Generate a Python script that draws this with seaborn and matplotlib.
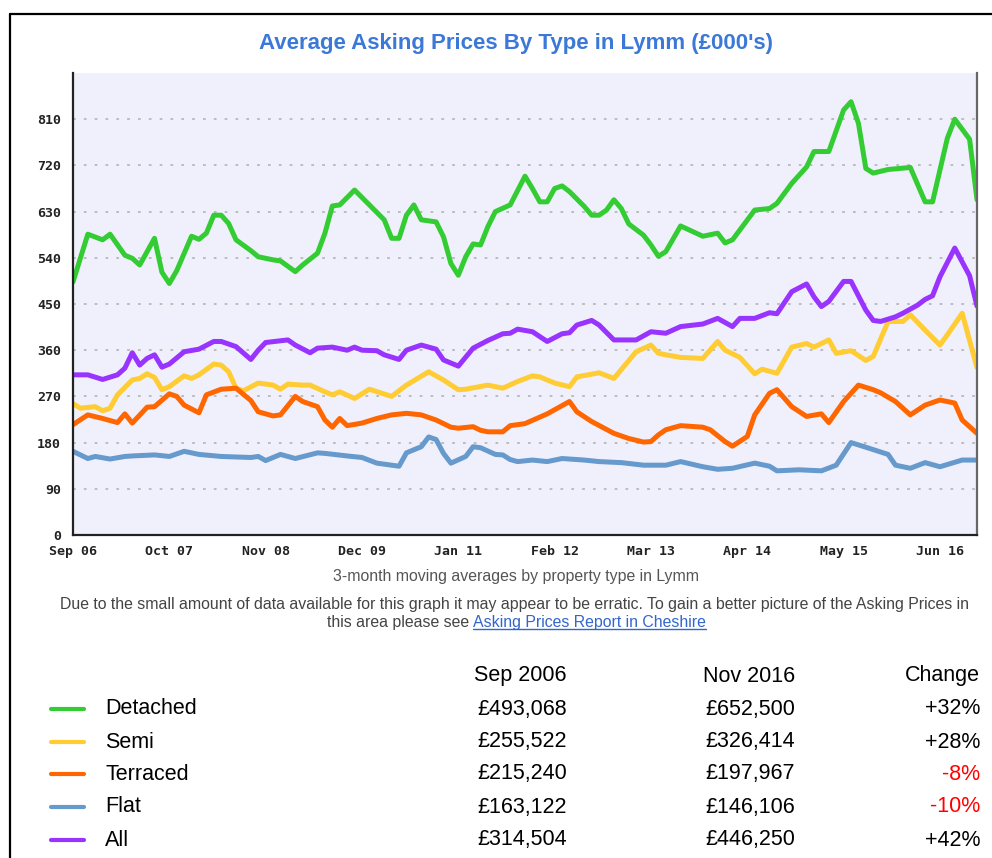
import pandas as pd
import matplotlib.pyplot as plt
import seaborn as sns
from matplotlib.lines import Line2D

# months counted from Sep 2006 (0) to Nov 2016 (122), values in £000's
detached_m = [0, 2, 4, 5, 7, 8, 9, 11, 12, 13, 14, 16, 17, 18, 19, 20, 21, 22, 24, 25, 27, 28, 30, 31,
              33, 34, 35, 36, 38, 40, 42, 43, 44, 45, 46, 47, 49, 50, 51, 52, 53, 54, 55, 56, 57, 59,
              61, 62, 63, 64, 65, 66, 67, 69, 70, 71, 72, 73, 74, 75, 77, 78, 79, 80, 82, 85, 87, 88,
              89, 92, 94, 95, 97, 99, 100, 102, 104, 105, 106, 107, 108, 110, 113, 115, 116, 118, 119,
              121, 122]
detached_v = [493, 586, 575, 586, 545, 539, 526, 578, 512, 490, 515, 582, 576, 588, 623, 623, 607, 575,
              554, 542, 536, 534, 513, 526, 549, 588, 641, 643, 672, 643, 614, 578, 578, 623, 643, 614,
              610, 581, 529, 506, 542, 567, 565, 601, 630, 643, 699, 675, 649, 649, 675, 680, 669, 640,
              623, 623, 633, 653, 636, 606, 584, 565, 543, 552, 602, 582, 588, 569, 575, 633, 636, 646,
              685, 717, 747, 747, 828, 844, 802, 714, 705, 712, 716, 649, 649, 773, 810, 771, 653]

semi_m = [0, 1, 3, 4, 5, 6, 8, 9, 10, 11, 12, 13, 15, 16, 17, 19, 20, 21, 22, 23, 25, 27, 28, 29, 31,
          32, 34, 35, 36, 38, 40, 43, 45, 48, 50, 52, 53, 56, 58, 60, 62, 63, 65, 67, 68, 71, 73, 76,
          78, 79, 80, 82, 85, 87, 88, 90, 92, 93, 95, 97, 99, 100, 102, 103, 105, 107, 108, 110, 112,
          113, 115, 117, 118, 120, 122]
semi_v = [256, 247, 250, 242, 247, 273, 302, 305, 314, 307, 283, 289, 310, 305, 312, 333, 331, 318, 286,
          281, 296, 292, 284, 294, 292, 292, 279, 273, 279, 266, 284, 270, 292, 318, 302, 283, 284, 292,
          286, 299, 310, 308, 296, 289, 308, 316, 305, 357, 370, 354, 351, 346, 344, 377, 360, 346, 314,
          323, 315, 366, 373, 366, 380, 354, 359, 340, 348, 416, 416, 429, 399, 370, 390, 432, 326]

terraced_m = [0, 2, 4, 6, 7, 8, 10, 11, 13, 14, 15, 17, 18, 20, 22, 24, 25, 27, 28, 30, 31, 33, 34, 35,
              36, 37, 39, 41, 43, 45, 47, 49, 51, 52, 54, 55, 56, 58, 59, 61, 64, 67, 68, 70, 73, 75,
              77, 78, 79, 80, 82, 85, 86, 88, 89, 91, 92, 94, 95, 97, 99, 101, 102, 104, 106, 108, 109,
              111, 113, 115, 117, 119, 120, 122]
terraced_v = [215, 234, 227, 219, 236, 218, 249, 250, 275, 270, 253, 238, 273, 284, 286, 262, 240, 232,
              234, 270, 260, 250, 224, 210, 227, 213, 218, 227, 234, 237, 234, 224, 210, 208, 211, 204,
              201, 201, 213, 217, 236, 260, 240, 221, 198, 188, 181, 182, 195, 205, 213, 210, 205, 182,
              173, 192, 234, 276, 283, 250, 231, 236, 219, 260, 292, 283, 277, 260, 234, 253, 263, 257,
              224, 198]

flat_m = [0, 2, 3, 5, 7, 8, 11, 13, 15, 17, 20, 24, 25, 26, 28, 30, 33, 34, 37, 39, 41, 44, 45, 47, 48,
          49, 50, 51, 53, 54, 55, 57, 58, 59, 60, 62, 64, 66, 69, 71, 74, 77, 80, 82, 85, 87, 89, 92,
          94, 95, 98, 101, 103, 105, 107, 110, 111, 113, 115, 117, 120, 122]
flat_v = [163, 149, 153, 148, 153, 154, 156, 153, 163, 157, 153, 151, 153, 145, 157, 149, 160, 159, 154,
          151, 140, 134, 160, 172, 191, 186, 159, 140, 153, 172, 170, 157, 156, 147, 143, 146, 143, 149,
          146, 143, 141, 136, 136, 143, 133, 128, 130, 140, 134, 125, 127, 125, 136, 180, 171, 157, 136,
          130, 141, 133, 146, 146]

all_m = [0, 2, 4, 6, 7, 8, 9, 10, 11, 12, 13, 15, 17, 19, 20, 22, 24, 25, 26, 29, 30, 32, 33, 35, 37,
         38, 39, 41, 42, 44, 45, 47, 49, 50, 52, 54, 56, 58, 59, 60, 62, 64, 66, 67, 68, 70, 71, 73,
         76, 78, 80, 82, 85, 87, 89, 90, 92, 94, 95, 97, 99, 100, 101, 102, 104, 105, 107, 108, 109,
         111, 112, 114, 115, 116, 117, 119, 121, 122]
all_v = [312, 312, 303, 312, 325, 355, 331, 344, 351, 327, 333, 357, 362, 377, 377, 367, 342, 360, 375,
         380, 370, 355, 364, 366, 360, 366, 360, 359, 351, 342, 360, 370, 362, 341, 329, 364, 379, 392,
         393, 401, 396, 377, 392, 394, 409, 418, 409, 380, 380, 396, 393, 406, 411, 422, 406, 422, 422,
         433, 431, 474, 489, 464, 445, 455, 494, 494, 438, 418, 416, 425, 432, 448, 459, 466, 503, 559,
         505, 446]

tick_months = [0, 13, 26, 39, 52, 65, 78, 91, 104, 117]
tick_labels = ['Sep 06', 'Oct 07', 'Nov 08', 'Dec 09', 'Jan 11', 'Feb 12', 'Mar 13', 'Apr 14', 'May 15', 'Jun 16']
y_ticks = [0, 90, 180, 270, 360, 450, 540, 630, 720, 810]

types = ['Detached', 'Semi', 'Terraced', 'Flat', 'All']
colours = ['#33cc33', '#ffcc33', '#ff6600', '#6699cc', '#9933ff']
sep_2006 = ['£493,068', '£255,522', '£215,240', '£163,122', '£314,504']
nov_2016 = ['£652,500', '£326,414', '£197,967', '£146,106', '£446,250']
change = ['+32%', '+28%', '-8%', '-10%', '+42%']

series = {
    'Detached': (detached_m, detached_v),
    'Semi': (semi_m, semi_v),
    'Terraced': (terraced_m, terraced_v),
    'Flat': (flat_m, flat_v),
    'All': (all_m, all_v),
}
frames = [pd.DataFrame({'month': m, 'price': v, 'type': t}) for t, (m, v) in series.items()]
df = pd.concat(frames, ignore_index=True)

W, H = 992, 858


def fx(px):
    return px / W


def fy(py):
    return 1 - py / H


sns.set_style('white')
plt.rcParams['font.family'] = ['Liberation Sans', 'DejaVu Sans']

fig = plt.figure(figsize=(W / 100, H / 100), dpi=100)
fig.patch.set_facecolor('white')

# outer page frame
fig.add_artist(Line2D([fx(10), fx(10)], [0, fy(14)], transform=fig.transFigure, color='black', lw=1.6))
fig.add_artist(Line2D([fx(10), 1], [fy(14), fy(14)], transform=fig.transFigure, color='black', lw=1.6))

fig.text(fx(516), fy(44), "Average Asking Prices By Type in Lymm (£000's)", ha='center', va='center',
         fontsize=16, fontweight='bold', color='#3b78d8')

ax = fig.add_axes([fx(73), fy(535), (977 - 73) / W, (535 - 73) / H])
ax.set_facecolor('#f0f0fc')

sns.lineplot(data=df, x='month', y='price', hue='type', hue_order=types, palette=colours,
             estimator=None, sort=True, linewidth=3.6, legend=False, ax=ax)

ax.set_xlim(0, 122)
ax.set_ylim(0, 900)
ax.set_xticks(tick_months)
ax.set_xticklabels(tick_labels)
ax.set_yticks(y_ticks)
ax.set_xlabel('')
ax.set_ylabel('')
for v in y_ticks[1:]:
    ax.axhline(v, color='#b8b8b8', lw=1.3, linestyle=(0, (1.5, 4.5)), zorder=0.5)

ax.tick_params(axis='x', length=0, pad=7)
ax.tick_params(axis='y', direction='inout', length=11, width=1.6, color='#222222', pad=3)
for lab in ax.get_xticklabels() + ax.get_yticklabels():
    lab.set_family('DejaVu Sans Mono')
    lab.set_fontweight('bold')
    lab.set_fontsize(9.5)
    lab.set_color('#222222')

ax.spines['top'].set_visible(False)
ax.spines['left'].set_color('#222222')
ax.spines['left'].set_linewidth(1.6)
ax.spines['bottom'].set_color('#222222')
ax.spines['bottom'].set_linewidth(1.6)
ax.spines['right'].set_color('#666666')
ax.spines['right'].set_linewidth(1.6)

# notes under the chart
fig.text(fx(516), fy(577), '3-month moving averages by property type in Lymm', ha='center', va='center',
         fontsize=11.4, color='#555555')
fig.text(fx(515), fy(604), 'Due to the small amount of data available for this graph it may appear to be '
         'erratic. To gain a better picture of the Asking Prices in', ha='center', va='center',
         fontsize=11.4, color='#444444')
fig.text(fx(469), fy(622), 'this area please see', ha='right', va='center', fontsize=11.4, color='#444444')
link = fig.text(fx(473), fy(622), 'Asking Prices Report in Cheshire', ha='left', va='center',
                fontsize=11.4, color='#3366cc')
fig.canvas.draw()
bb = link.get_window_extent()
fig.add_artist(Line2D([bb.x0 / W, bb.x1 / W], [(bb.y0 + 1) / H] * 2, transform=fig.transFigure,
                      color='#3366cc', lw=1))

# summary table
fig.text(fx(567), fy(676), 'Sep 2006', ha='right', va='center', fontsize=15.5, color='black')
fig.text(fx(795), fy(676), 'Nov 2016', ha='right', va='center', fontsize=15.5, color='black')
fig.text(fx(980), fy(676), 'Change', ha='right', va='center', fontsize=15.5, color='black')
row_y = [709, 742, 774, 807, 840]
for i, t in enumerate(types):
    y = fy(row_y[i])
    fig.add_artist(Line2D([fx(51), fx(84)], [y, y], transform=fig.transFigure, color=colours[i], lw=3))
    fig.text(fx(105), y, t, ha='left', va='center', fontsize=15.5, color='black')
    fig.text(fx(567), y, sep_2006[i], ha='right', va='center', fontsize=15.5, color='black')
    fig.text(fx(795), y, nov_2016[i], ha='right', va='center', fontsize=15.5, color='black')
    fig.text(fx(980), y, change[i], ha='right', va='center', fontsize=15.5,
             color='#ff0000' if change[i].startswith('-') else 'black')

fig.savefig('out.png', dpi=100)
